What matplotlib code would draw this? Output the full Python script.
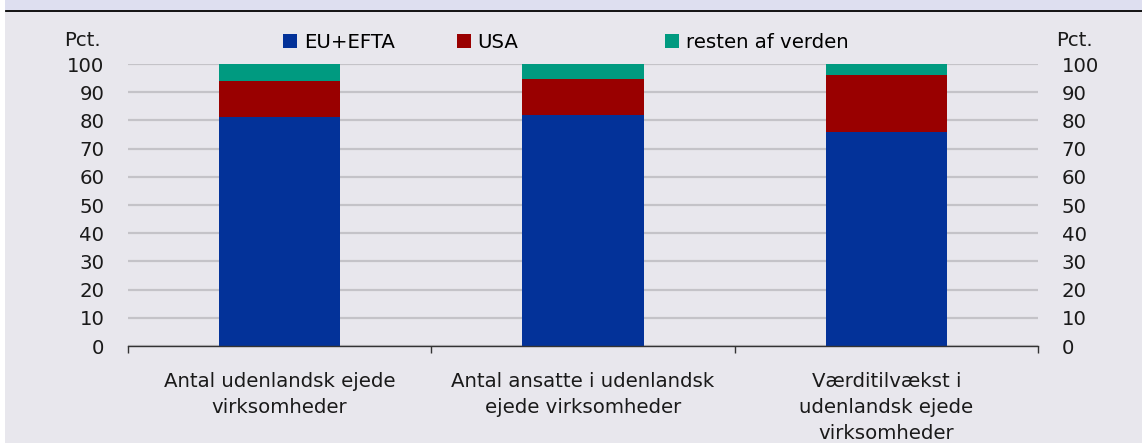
import matplotlib
matplotlib.use("Agg")
import matplotlib.pyplot as plt
from matplotlib.patches import Rectangle, Patch
import numpy as np

categories = ["Antal udenlandsk ejede\nvirksomheder",
              "Antal ansatte i udenlandsk\nejede virksomheder",
              "Værditilvækst i\nudenlandsk ejede\nvirksomheder"]
eu_efta = [81.2, 81.9, 76.0]
usa = [12.8, 12.8, 20.1]
rest = [6.0, 5.3, 3.9]
series_names = ["EU+EFTA", "USA", "resten af verden"]
colors = ["#033299", "#990000", "#009a80"]
yticks = list(range(0, 101, 10))

W, H = 1142, 443
bg = "#e8e7ed"
plt.rcParams["font.family"] = ["DejaVu Sans"]
fig = plt.figure(figsize=(W / 100, H / 100), dpi=100, facecolor="white")
fs = 14.2

# background panels
fig.patches.append(Rectangle((5 / W, 0), 1 - 5 / W, (H - 11) / H, transform=fig.transFigure,
                             facecolor=bg, edgecolor="none", zorder=-2))
fig.patches.append(Rectangle((5 / W, (H - 10) / H), 1 - 5 / W, 10 / H, transform=fig.transFigure,
                             facecolor="#dedff0", edgecolor="none", zorder=-2))
fig.lines.append(plt.Line2D([6 / W, 1], [(H - 10.5) / H] * 2, transform=fig.transFigure,
                            color="black", lw=1.3))

ax = fig.add_axes([128 / W, (H - 346) / H, (1038 - 128) / W, (346 - 64) / H])
ax.set_facecolor("none")
x = np.arange(len(categories))
bottom = np.zeros(len(categories))
for vals, c, name in zip([eu_efta, usa, rest], colors, series_names):
    ax.bar(x, vals, width=0.40, bottom=bottom, color=c, label=name, zorder=3)
    bottom += np.array(vals)

ax.set_xlim(-0.5, len(categories) - 0.5)
ax.set_ylim(0, 100)
ax.set_yticks(yticks)
ax.set_yticklabels([str(v) for v in yticks], fontsize=fs, color="#1a1a1a")
ax.tick_params(axis="y", length=0, pad=17)
ax.grid(axis="y", color="#c4c3c8", lw=1.6, zorder=0)
for s in ["top", "right", "left"]:
    ax.spines[s].set_visible(False)
ax.spines["bottom"].set_color("#333333")
ax.spines["bottom"].set_linewidth(1.0)
ax.spines["bottom"].set_zorder(4)

ax.set_xticks(x)
ax.set_xticklabels(categories, fontsize=fs, color="#1a1a1a", linespacing=1.45)
ax.tick_params(axis="x", length=0, pad=19)
ax.set_xticks(np.arange(-0.5, len(categories)), minor=True)
ax.tick_params(axis="x", which="minor", length=5, width=1, color="#333333", direction="out")

ax2 = ax.twinx()
ax2.set_ylim(0, 100)
ax2.set_yticks(yticks)
ax2.set_yticklabels([str(v) for v in yticks], fontsize=fs, color="#1a1a1a")
ax2.tick_params(axis="y", length=0, pad=17)
for s in ax2.spines.values():
    s.set_visible(False)

fig.text(64 / W, (H - 40) / H, "Pct.", fontsize=fs, color="#1a1a1a", va="center", ha="left")
fig.text(1056 / W, (H - 40) / H, "Pct.", fontsize=fs, color="#1a1a1a", va="center", ha="left")

# legend entries placed one by one (uneven gaps as in the original)
legend_x = [283, 457, 665]
for c, name, lx in zip(colors, series_names, legend_x):
    fig.legend([Patch(facecolor=c, edgecolor="none")], [name], loc="center left",
               bbox_to_anchor=(lx / W, (H - 42) / H), frameon=False, fontsize=fs,
               handlelength=0.7, handleheight=0.7, handletextpad=0.35,
               borderaxespad=0, borderpad=0)

fig.savefig("out.png", dpi=100, facecolor=fig.get_facecolor())
